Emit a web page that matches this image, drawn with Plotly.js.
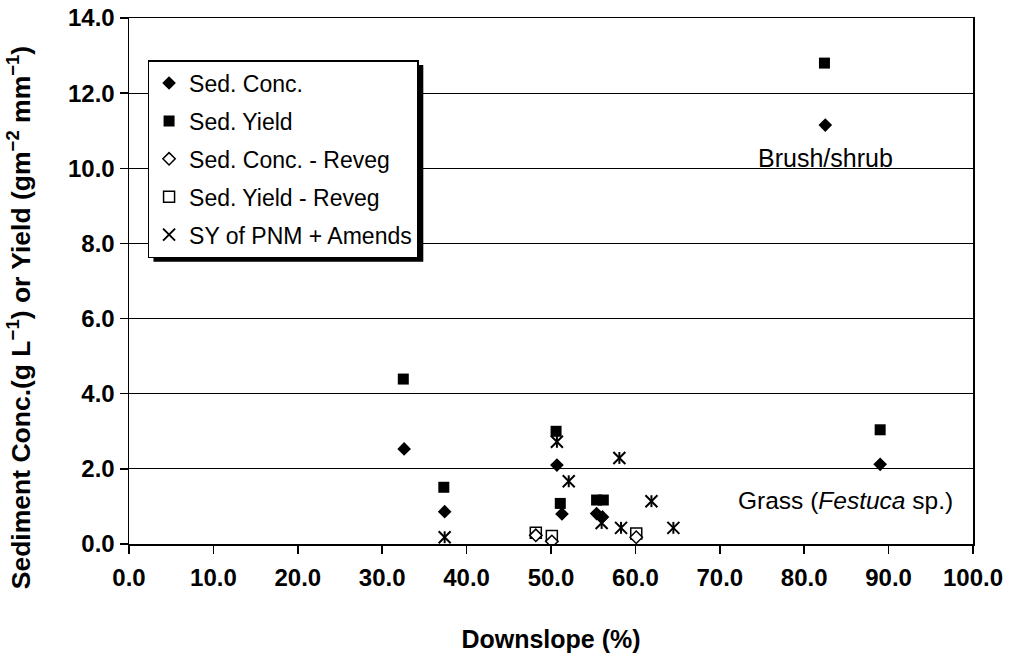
<!DOCTYPE html>
<html>
<head>
<meta charset="utf-8">
<script src="https://cdn.plot.ly/plotly-3.0.1.min.js"></script>
<style>html,body{margin:0;padding:0;background:#fff;}#chart{width:1010px;height:658px;}</style>
</head>
<body>
<div id="chart"></div>
<script>
// Sed. Conc. (filled diamonds)
const sedConcX = [32.6, 37.4, 50.7, 51.3, 55.4, 56.1, 82.5, 89.0];
const sedConcY = [2.53, 0.86, 2.10, 0.80, 0.81, 0.72, 11.15, 2.12];
// Sed. Yield (filled squares)
const sedYieldX = [32.5, 37.3, 50.6, 51.1, 55.4, 56.2, 82.4, 89.0];
const sedYieldY = [4.39, 1.51, 3.00, 1.08, 1.17, 1.17, 12.80, 3.04];
// Sed. Conc. - Reveg (open diamonds)
const concRevegX = [48.2, 50.1, 60.1];
const concRevegY = [0.23, 0.07, 0.18];
// Sed. Yield - Reveg (open squares)
const yieldRevegX = [48.2, 50.1, 60.1];
const yieldRevegY = [0.30, 0.21, 0.28];
// SY of PNM + Amends (asterisks)
const pnmX = [37.4, 50.7, 52.1, 56.0, 58.1, 58.3, 61.9, 64.5];
const pnmY = [0.18, 2.72, 1.67, 0.56, 2.29, 0.43, 1.14, 0.43];

const seriesNames = ["Sed. Conc.", "Sed. Yield", "Sed. Conc. - Reveg", "Sed. Yield - Reveg", "SY of PNM + Amends"];
const xTickVals = [0, 10, 20, 30, 40, 50, 60, 70, 80, 90, 100];
const yTickVals = [0, 2, 4, 6, 8, 10, 12, 14];

const FONT = "Liberation Sans, Arial, Helvetica, sans-serif";

const traces = [
  {x: yieldRevegX, y: yieldRevegY, name: seriesNames[3], legendgroup: "d", legendrank: 4, type: "scatter", mode: "markers",
   marker: {symbol: "square", size: 11, color: "#ffffff", line: {color: "#000", width: 1.5}}},
  {x: concRevegX, y: concRevegY, name: seriesNames[2], legendgroup: "c", legendrank: 3, type: "scatter", mode: "markers",
   marker: {symbol: "diamond", size: 9.5, color: "#ffffff", line: {color: "#000", width: 1.5}}},
  {x: sedYieldX, y: sedYieldY, name: seriesNames[1], legendgroup: "b", legendrank: 2, type: "scatter", mode: "markers",
   marker: {symbol: "square", size: 11, color: "#000", line: {width: 0}}},
  {x: sedConcX, y: sedConcY, name: seriesNames[0], legendgroup: "a", legendrank: 1, type: "scatter", mode: "markers",
   marker: {symbol: "diamond", size: 10.5, color: "#000", line: {width: 0}}},
  {x: pnmX, y: pnmY, name: seriesNames[4], legendgroup: "e", legendrank: 5, type: "scatter", mode: "markers",
   marker: {symbol: "x-thin-open", size: 12, color: "#000", line: {color: "#000", width: 2}}},
  {x: pnmX, y: pnmY, name: seriesNames[4], legendgroup: "e", showlegend: false, type: "scatter", mode: "markers",
   marker: {symbol: "line-ns-open", size: 8.5, color: "#000", line: {color: "#000", width: 2}}}
];

// legend drop shadow (paper coords, sits under the legend box)
const shadow = {type: "rect", xref: "paper", yref: "paper", layer: "above",
  x0: 0.029, x1: 0.3487, y0: 0.5366, y1: 0.9107,
  fillcolor: "#000", line: {width: 0}};

const layout = {
  width: 1010, height: 658,
  margin: {l: 128.5, r: 37, t: 18, b: 113.5},
  paper_bgcolor: "#fff", plot_bgcolor: "#fff",
  font: {family: FONT, color: "#000"},
  showlegend: true,
  legend: {
    x: 0.022, y: 0.92, xanchor: "left", yanchor: "top",
    bgcolor: "#fff", bordercolor: "#000", borderwidth: 1.5,
    font: {family: FONT, size: 23, color: "#000"},
    traceorder: "grouped", tracegroupgap: 5,
    itemsizing: "trace"
  },
  shapes: [shadow],
  xaxis: {
    range: [0, 100], tickvals: xTickVals, tickformat: ".1f",
    showgrid: false, zeroline: false,
    showline: true, linecolor: "#000", linewidth: 1.5, mirror: true,
    ticks: "outside", ticklen: 8, tickwidth: 1.5, tickcolor: "#000",
    ticklabelstandoff: 4,
    tickfont: {family: FONT, size: 24, color: "#000", weight: "bold"},
    title: {text: "<b>Downslope (%)</b>", font: {family: FONT, size: 25, color: "#000"}, standoff: 40}
  },
  yaxis: {
    range: [0, 14], tickvals: yTickVals, tickformat: ".1f",
    showgrid: true, gridcolor: "#000", gridwidth: 1.2, zeroline: false,
    showline: true, linecolor: "#000", linewidth: 1.5, mirror: true,
    ticks: "outside", ticklen: 8, tickwidth: 1.5, tickcolor: "#000",
    tickfont: {family: FONT, size: 24, color: "#000", weight: "bold"}
  },
  annotations: [
    {xref: "paper", yref: "paper", x: -0.131, y: 0.43, xanchor: "center", yanchor: "middle",
     textangle: -90, showarrow: false,
     text: "<b>Sediment Conc.(g L<sup>−1</sup>) or Yield (gm<sup>−2</sup> mm<sup>−1</sup>)</b>",
     font: {family: FONT, size: 26.5, color: "#000"}},
    {xref: "x", yref: "y", x: 82.5, y: 10.28, showarrow: false, text: "Brush/shrub",
     font: {family: FONT, size: 25, color: "#000"}},
    {xref: "x", yref: "y", x: 84.9, y: 1.16, showarrow: false, text: "Grass (<i>Festuca</i> sp.)",
     font: {family: FONT, size: 24.5, color: "#000"}}
  ]
};

Plotly.newPlot("chart", traces, layout, {displayModeBar: false, staticPlot: true});
</script>
</body>
</html>
